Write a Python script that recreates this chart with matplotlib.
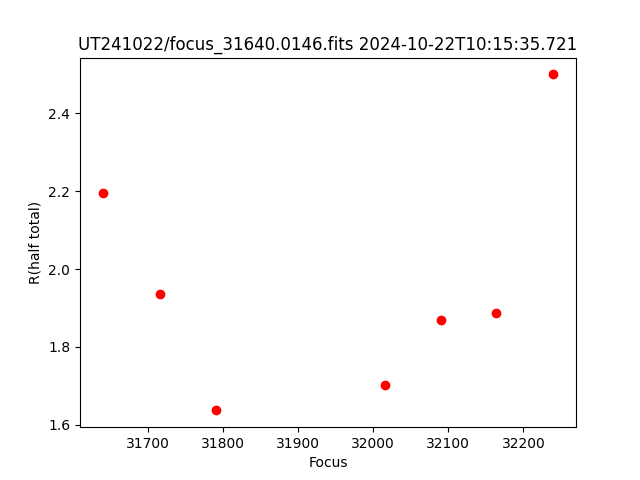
import matplotlib
matplotlib.use("Agg")
import matplotlib.pyplot as plt

focus = [31640, 31716, 31791, 32016, 32090, 32164, 32240]
r_half = [2.195, 1.936, 1.637, 1.702, 1.869, 1.886, 2.500]

fig, ax = plt.subplots(figsize=(6.4, 4.8), dpi=100)
ax.plot(focus, r_half, 'ro')
ax.set_xlabel("Focus")
ax.set_ylabel("R(half total)")
ax.set_title("UT241022/focus_31640.0146.fits 2024-10-22T10:15:35.721")
fig.savefig("out.png")
